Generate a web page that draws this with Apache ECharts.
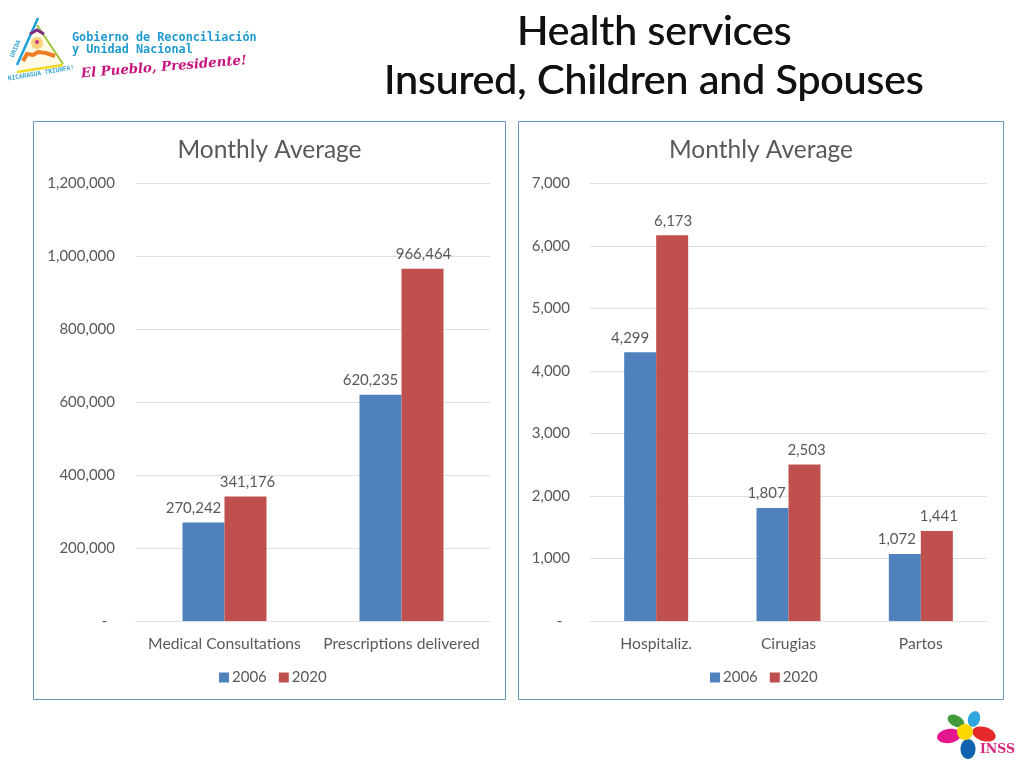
<!DOCTYPE html>
<html><head><meta charset="utf-8">
<style>html,body{margin:0;padding:0;background:#fff}#c{width:1024px;height:768px}</style>
<script src="https://cdn.jsdelivr.net/npm/echarts@6/dist/echarts.min.js"></script>
</head><body><div id="c"></div>
<script>
const seriesNames = ['2006','2020'];
const leftCategories = ['Medical Consultations','Prescriptions delivered'];
const left2006 = [270242, 620235];
const left2020 = [341176, 966464];
const rightCategories = ['Hospitaliz.','Cirugias','Partos'];
const right2006 = [4299, 1807, 1072];
const right2020 = [6173, 2503, 1441];
const titleLines = ['Health services','Insured, Children and Spouses'];
const panelTitle = 'Monthly Average';
const FONT = 'Lato';
const BLUE = '#4f81bd', RED = '#c0504d', TXT = '#595959', GRID = '#e0e0e0', EDGE='#6a94c0';
const fmt = v => v === 0 ? '-\u00a0\u00a0' : v.toLocaleString('en-US');
const labelNudge = {left2006:[-10,-10],left2020:[2,1],right2006:[-10,-6,-8],right2020:[1,2,2]};

function yAxis(gridIndex, max, interval, margin){
  return {type:'value',gridIndex,min:0,max,interval,
    axisLine:{show:false},axisTick:{show:false},
    axisLabel:{formatter:fmt,color:TXT,fontFamily:FONT,fontSize:15,margin,padding:[2,0,0,0]},
    splitLine:{lineStyle:{color:GRID,width:1}}};
}
function xAxis(gridIndex,data){
  return {type:'category',gridIndex,data,
    axisLine:{lineStyle:{color:GRID}},axisTick:{show:false},
    axisLabel:{color:TXT,fontFamily:FONT,fontSize:15.7,margin:15,interval:0}};
}
function bar(name,idx,values,nudge,color,barWidth){
  return {type:'bar',name,xAxisIndex:idx,yAxisIndex:idx,barWidth,barGap:0,
    data:values.map((value,i)=>({value,label:{offset:[nudge[i],0]}})),
    itemStyle:{color},
    label:{show:true,position:'top',formatter:p=>fmt(p.value),color:TXT,fontFamily:FONT,fontSize:15,distance:7}};
}
function panel(x,y,w,h){
  return {type:'rect',silent:true,z:-1,shape:{x,y,width:w,height:h},style:{fill:'#fff',stroke:EDGE,lineWidth:1}};
}
function txt(x,y,text,font,fill,align,rotation){
  return {type:'text',silent:true,x,y,rotation:rotation||0,style:{text,font,fill,align:align||'center',verticalAlign:'middle'}};
}
function blob(cx,cy,rx,ry,fill,rotation){
  return {type:'ellipse',silent:true,x:cx,y:cy,rotation:rotation||0,shape:{cx:0,cy:0,rx,ry},style:{fill}};
}
const titleFont = `41px "${FONT}"`;
const graphic = [
  panel(33.5,121.5,472,578), panel(518.5,121.5,485,578),
  txt(654,31.5,titleLines[0],titleFont,'#111'),
  txt(654.6,31.5,titleLines[0],titleFont,'#111'),
  txt(653.5,80.5,titleLines[1],titleFont,'#111'),
  txt(654.1,80.5,titleLines[1],titleFont,'#111'),
  txt(269.5,150,panelTitle,`24.5px "${FONT}"`,TXT),
  txt(761,150,panelTitle,`24.5px "${FONT}"`,TXT),
  // header logo
  {type:'polygon',silent:true,shape:{points:[[37,25],[63,64],[18,71]]},style:{fill:'#fffbe6'}},
  {type:'line',silent:true,shape:{x1:38,y1:18,x2:17,y2:65},style:{stroke:'#1aa0d8',lineWidth:2.5}},
  {type:'line',silent:true,shape:{x1:37,y1:25,x2:63,y2:64},style:{stroke:'#9cc53a',lineWidth:2}},
  {type:'line',silent:true,shape:{x1:17,y1:72,x2:63,y2:65},style:{stroke:'#f5d920',lineWidth:2.5}},
  {type:'circle',silent:true,shape:{cx:37,cy:43,r:6},style:{fill:'#f8d27a'}},
  {type:'circle',silent:true,shape:{cx:37,cy:42,r:2},style:{fill:'#c9348a'}},
  {type:'polyline',silent:true,shape:{points:[[23,61],[27,54],[33,55],[38,52],[46,53],[55,56]]},style:{stroke:'#ef7d22',lineWidth:4,fill:null}},
  {type:'polyline',silent:true,shape:{points:[[30,34],[37,30],[44,34]]},style:{stroke:'#7b2a86',lineWidth:3,fill:null}},
  txt(8,79,'NICARAGUA TRIUNFA!','bold 6.2px "DejaVu Sans Mono"','#3aa6d6','left',0.17),
  txt(12,57,'UNIDA','bold 6px "DejaVu Sans Mono"','#3aa6d6','left',1.15),
  txt(72,37.5,'Gobierno de Reconciliación','bold 11.8px "DejaVu Sans Mono"','#1f9ad1','left'),
  txt(72,50,'y Unidad Nacional','bold 11.8px "DejaVu Sans Mono"','#1f9ad1','left'),
  txt(81,74,'El Pueblo, Presidente!','italic bold 13.3px "DejaVu Serif"','#c9157f','left',0.08),
  // footer logo
  blob(949,736,12,7,'#e5178f',0.15),
  blob(956,721,9,5.5,'#3f9b3a',-0.5),
  blob(974,719,6,8,'#2fa6de',-0.3),
  blob(984,734,12,7,'#e5282a',-0.3),
  blob(968,749,7.5,10,'#0f62ac',0),
  {type:'circle',silent:true,shape:{cx:965,cy:732,r:8},style:{fill:'#fcd800'}},
  txt(997.5,750,'INSS','bold 12.5px "DejaVu Serif"','#d8267f')
];
const legendBase = {data:seriesNames,top:670,itemWidth:10,itemHeight:10,itemGap:12,icon:'rect',padding:0,
  textStyle:{color:TXT,fontFamily:FONT,fontSize:15,padding:[0,0,0,-2]}};
const chart = echarts.init(document.getElementById('c'),null,{renderer:'canvas'});
chart.setOption({
  animation:false,backgroundColor:'#fff',
  graphic,
  legend:[Object.assign({left:219},legendBase),Object.assign({left:710},legendBase)],
  grid:[
    {left:136,top:183.5,width:354,height:437.5},
    {left:590,top:183.5,width:397,height:437.5}
  ],
  xAxis:[xAxis(0,leftCategories),xAxis(1,rightCategories)],
  yAxis:[yAxis(0,1200000,200000,21),yAxis(1,7000,1000,20)],
  series:[
    bar('2006',0,left2006,labelNudge.left2006,BLUE,42),bar('2020',0,left2020,labelNudge.left2020,RED,42),
    bar('2006',1,right2006,labelNudge.right2006,BLUE,32),bar('2020',1,right2020,labelNudge.right2020,RED,32)
  ]
});
</script></body></html>
